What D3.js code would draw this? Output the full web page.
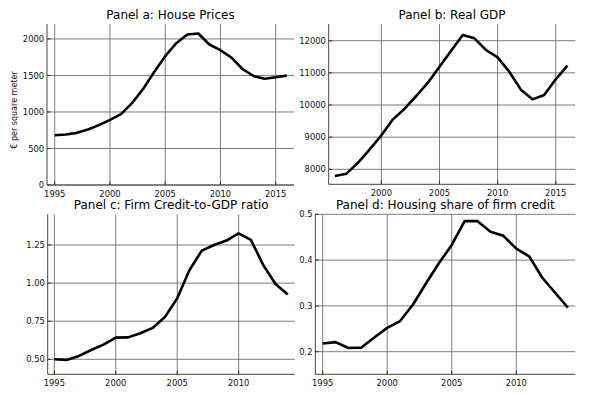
<!DOCTYPE html>
<html><head><meta charset="utf-8">
<script src="https://cdn.jsdelivr.net/npm/d3@7"></script>
<style>
html,body{margin:0;padding:0;background:#fff;}
text{font-family:"DejaVu Sans",sans-serif;}
</style></head>
<body>
<svg id="c" width="592" height="395"></svg>
<script>
// ---- data ----
const yearsA = d3.range(1995, 2017);
const housePrices = [682,692,714,760,820,893,971,1122,1314,1548,1763,1942,2061,2075,1924,1846,1745,1589,1493,1456,1475,1498];
const yearsB = d3.range(1996, 2017);
const realGDP = [7793,7865,8207,8622,9057,9554,9886,10280,10694,11192,11689,12176,12073,11710,11482,11036,10477,10176,10311,10798,11223];
const yearsC = d3.range(1995, 2015);
const creditToGDP = [0.500,0.496,0.522,0.561,0.596,0.642,0.644,0.671,0.706,0.778,0.900,1.086,1.213,1.250,1.279,1.327,1.283,1.119,0.994,0.926];
const yearsD = d3.range(1995, 2015);
const housingShare = [0.218,0.221,0.208,0.209,0.231,0.252,0.267,0.303,0.349,0.393,0.433,0.485,0.485,0.462,0.453,0.425,0.408,0.362,0.329,0.296];

const titles = ["Panel a: House Prices","Panel b: Real GDP","Panel c: Firm Credit-to-GDP ratio","Panel d: Housing share of firm credit"];
const xTicksA = [1995,2000,2005,2010,2015];
const xTicksB = [2000,2005,2010,2015];
const xTicksC = [1995,2000,2005,2010];
const yTicksA = [0,500,1000,1500,2000];
const yTicksB = [8000,9000,10000,11000,12000];
const yTicksC = [0.50,0.75,1.00,1.25];
const yTicksD = [0.2,0.3,0.4,0.5];

const svg = d3.select("#c");

const panels = [
  {title:titles[0], xs:yearsA, ys:housePrices, box:[47,24,294,185], xd:[1994.30,2016.66], yd:[0,2205], xt:xTicksA, yt:yTicksA, yf:d3.format("d"), ylabel:"€ per square meter"},
  {title:titles[1], xs:yearsB, ys:realGDP, box:[328.7,24,575.3,184.3], xd:[1995.47,2016.68], yd:[7534,12519], xt:xTicksB, yt:yTicksB, yf:d3.format("d")},
  {title:titles[2], xs:yearsC, ys:creditToGDP, box:[47.7,214.3,294.7,374.3], xd:[1994.46,2014.56], yd:[0.4016,1.4515], xt:xTicksC, yt:yTicksC, yf:d3.format(".2f")},
  {title:titles[3], xs:yearsD, ys:housingShare, box:[315.3,214.3,575.3,374.3], xd:[1994.43,2014.57], yd:[0.1507,0.5], xt:xTicksC, yt:yTicksD, yf:d3.format(".1f")}
];

panels.forEach(p => {
  const [x0,y0,x1,y1] = p.box;
  const x = d3.scaleLinear().domain(p.xd).range([x0,x1]);
  const y = d3.scaleLinear().domain(p.yd).range([y1,y0]);
  const g = svg.append("g");

  // grid
  g.selectAll(".gx").data(p.xt).join("line")
    .attr("x1",d=>x(d)).attr("x2",d=>x(d)).attr("y1",y0).attr("y2",y1)
    .attr("stroke","#6e6e6e").attr("stroke-width",0.9);
  g.selectAll(".gy").data(p.yt).join("line")
    .attr("x1",x0).attr("x2",x1).attr("y1",d=>y(d)).attr("y2",d=>y(d))
    .attr("stroke","#6e6e6e").attr("stroke-width",0.9);

  // inward ticks
  g.selectAll(".ty").data(p.yt).join("line")
    .attr("x1",x0).attr("x2",x0+3.5).attr("y1",d=>y(d)).attr("y2",d=>y(d))
    .attr("stroke","#222").attr("stroke-width",0.9);
  g.selectAll(".tx").data(p.xt).join("line")
    .attr("x1",d=>x(d)).attr("x2",d=>x(d)).attr("y1",y1).attr("y2",y1-3.5)
    .attr("stroke","#222").attr("stroke-width",0.9);

  // spines
  g.append("line").attr("x1",x0).attr("x2",x0).attr("y1",y0).attr("y2",y1)
    .attr("stroke","#444").attr("stroke-width",1);
  g.append("line").attr("x1",x0).attr("x2",x1).attr("y1",y1).attr("y2",y1)
    .attr("stroke","#444").attr("stroke-width",1);

  // tick labels
  g.selectAll(".lx").data(p.xt).join("text")
    .attr("x",d=>x(d)).attr("y",y1+11.7).attr("text-anchor","middle")
    .attr("font-size",8.4).attr("fill","#111").text(d=>d);
  g.selectAll(".ly").data(p.yt).join("text")
    .attr("x",x0-2.8).attr("y",d=>y(d)).attr("dy","0.36em").attr("text-anchor","end")
    .attr("font-size",8.4).attr("fill","#111").text(d=>p.yf(d));

  // line
  const line = d3.line().x((d,i)=>x(p.xs[i])).y(d=>y(d));
  g.append("path").datum(p.ys).attr("d",line).attr("fill","none")
    .attr("stroke","#000").attr("stroke-width",2.6).attr("stroke-linejoin","round");

  // title
  g.append("text").attr("x",(x0+x1)/2).attr("y",y0-5).attr("text-anchor","middle")
    .attr("font-size",12).attr("fill","#000").text(p.title);

  if (p.ylabel) {
    g.append("text").attr("transform",`translate(16.5,${110}) rotate(-90)`)
      .attr("text-anchor","middle").attr("font-size",8).attr("fill","#111").text(p.ylabel);
  }
});
</script>
</body></html>
